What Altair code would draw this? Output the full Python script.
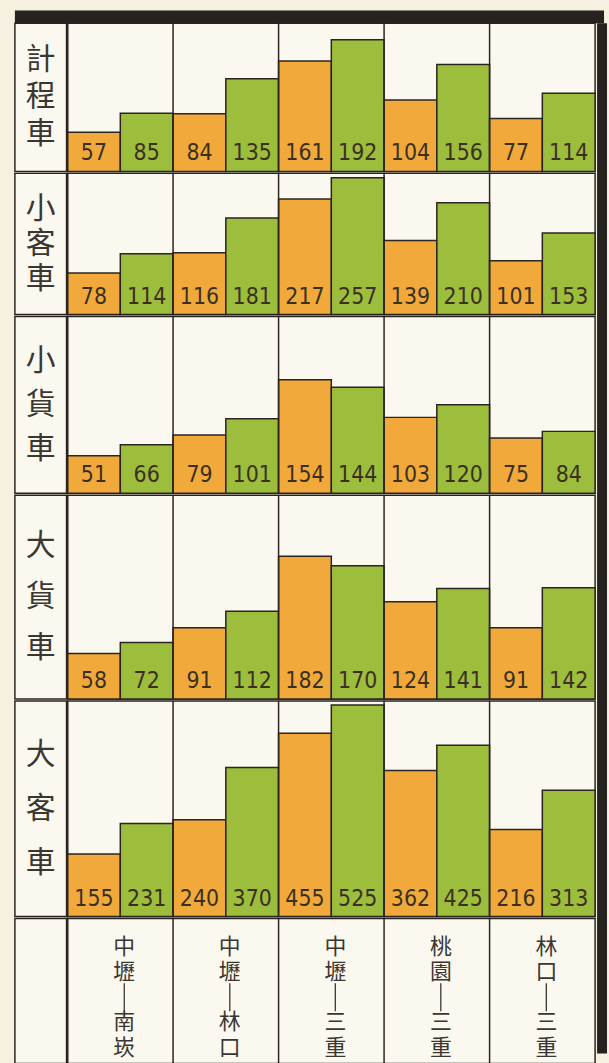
import altair as alt
import pandas as pd

# ---------------- data ----------------
vehicles = ["計程車", "小客車", "小貨車", "大貨車", "大客車"]
routes = ["中壢—南崁", "中壢—林口", "中壢—三重", "桃園—三重", "林口—三重"]
series = ["甲", "乙"]
orange_vals = [
    [57, 84, 161, 104, 77],
    [78, 116, 217, 139, 101],
    [51, 79, 154, 103, 75],
    [58, 91, 182, 124, 91],
    [155, 240, 455, 362, 216],
]
green_vals = [
    [85, 135, 192, 156, 114],
    [114, 181, 257, 210, 153],
    [66, 101, 144, 120, 84],
    [72, 112, 170, 141, 142],
    [231, 370, 525, 425, 313],
]
y_max = [216, 265, 240, 260, 535]

# ---------------- layout / style ----------------
row_heights = [149, 142, 178, 205, 217]
label_w = 52
plot_w = 531
bottom_h = 146
bar_w = 10
top_h = 13
GAP = -3

BG = "#f6f0e1"
CELL = "#fbf8ef"
BORDER = "#2a2520"
DARK = "#262220"
ORANGE = "#f2a93b"
GREEN = "#9dbd3c"
NUM_COLOR = "#3b3020"
LABEL_COLOR = "#3a3632"
NUM_FONT = "Liberation Sans Narrow, DejaVu Sans Condensed, Roboto Condensed, Liberation Sans, sans-serif"
CJK_FONT = "Noto Sans CJK TC"

xscale = alt.Scale(paddingInner=0, paddingOuter=0)
LAB_STEP = 33
cell_view = alt.ViewBackground(fill=CELL, stroke=BORDER, strokeWidth=1.5)


def row_chart(i):
    rows = []
    for r, o, g in zip(routes, orange_vals[i], green_vals[i]):
        rows.append({"route": r, "series": series[0], "value": o})
        rows.append({"route": r, "series": series[1], "value": g})
    df = pd.DataFrame(rows)
    base = alt.Chart(df)
    x = alt.X("route:N", sort=routes, axis=None, scale=xscale)
    xo = alt.XOffset("series:N", sort=series, scale=alt.Scale(paddingInner=0, paddingOuter=0))
    y = alt.Y("value:Q", axis=None, scale=alt.Scale(domain=[0, y_max[i]], nice=False))
    bars = base.mark_bar(stroke=BORDER, strokeWidth=1.5).encode(
        x=x, xOffset=xo, y=y,
        color=alt.Color("series:N", sort=series,
                        scale=alt.Scale(domain=series, range=[ORANGE, GREEN]), legend=None),
    )
    nums = base.mark_text(baseline="alphabetic", dy=-11, font=NUM_FONT, fontSize=23,
                          color=NUM_COLOR).encode(
        x=x, xOffset=xo, y=alt.datum(0), text="value:Q"
    )
    seps = alt.Chart(pd.DataFrame({"route": routes})).mark_rule(
        color=BORDER, strokeWidth=1.5).encode(
        x=alt.X("route:N", sort=routes, axis=None, scale=xscale, bandPosition=0)
    )
    plot = alt.layer(bars, nums, seps).properties(width=plot_w, height=row_heights[i])

    chars = list(vehicles[i])
    n = len(chars)
    lab_df = pd.DataFrame({"vehicle": [vehicles[i]] * n, "ch": chars, "idx": list(range(n))})
    pad = (row_heights[i] / LAB_STEP - (n - 1)) / 2
    lab = alt.Chart(lab_df).mark_text(
        font=CJK_FONT, fontSize=30, color=LABEL_COLOR, baseline="middle"
    ).encode(
        x=alt.X("vehicle:N", axis=None),
        y=alt.Y("idx:O", axis=None, scale=alt.Scale(type="point", padding=pad)),
        text="ch:N",
    ).properties(width=label_w, height=row_heights[i])
    return alt.hconcat(lab, plot, spacing=GAP).resolve_scale(
        y="independent", x="independent")


rows_charts = [row_chart(i) for i in range(len(vehicles))]

# bottom row with route labels
rl = []
for r in routes:
    a, b = r.split("—")
    for k, ch in enumerate(list(a) + [None] + list(b)):
        if ch is not None:
            rl.append({"route": r, "ch": ch, "idx": k})
route_chars = pd.DataFrame(rl)
route_lines = pd.DataFrame({"route": routes, "y0": [1.43] * len(routes), "y1": [2.55] * len(routes)})

ry = alt.Scale(domain=[-1.148, 4.634], reverse=True, nice=False, zero=False)
rx = alt.X("route:N", sort=routes, axis=None, scale=xscale)
rtext = alt.Chart(route_chars).mark_text(
    font=CJK_FONT, fontSize=22, baseline="middle", color=LABEL_COLOR, dx=4
).encode(x=rx, y=alt.Y("idx:Q", axis=None, scale=ry), text="ch:N")
rline = alt.Chart(route_lines).mark_rule(color=LABEL_COLOR, strokeWidth=1.3, xOffset=4).encode(
    x=rx, y=alt.Y("y0:Q", axis=None, scale=ry), y2="y1:Q"
)
rseps = alt.Chart(pd.DataFrame({"route": routes})).mark_rule(color=BORDER, strokeWidth=1.5).encode(
    x=alt.X("route:N", sort=routes, axis=None, scale=xscale, bandPosition=0)
)
bottom_plot = alt.layer(rtext, rline, rseps).properties(width=plot_w, height=bottom_h)
empty_df = pd.DataFrame({"a": [0]})
bottom_lab = alt.Chart(empty_df).mark_point(opacity=0).properties(
    width=label_w, height=bottom_h, view=cell_view)
bottom_row = alt.hconcat(bottom_lab, bottom_plot, spacing=GAP)

main = alt.vconcat(*rows_charts, bottom_row, spacing=GAP)

right_bar = alt.Chart(empty_df).mark_point(opacity=0).properties(
    width=bar_w, height=sum(row_heights) + bottom_h,
    view=alt.ViewBackground(fill=DARK, stroke=DARK, strokeWidth=0)
)
top_bar = alt.Chart(empty_df).mark_point(opacity=0).properties(
    width=label_w + plot_w + bar_w, height=top_h,
    view=alt.ViewBackground(fill=DARK, stroke=DARK, strokeWidth=0)
)

chart = alt.vconcat(
    top_bar,
    alt.hconcat(main, right_bar, spacing=GAP),
    spacing=GAP,
).properties(
    padding={"left": 14, "top": 7, "right": 2, "bottom": 0},
    background=BG,
).configure_view(
    fill=CELL, stroke=BORDER, strokeWidth=1.5
)

chart.save("out.html", embed_options={"renderer": "svg", "actions": False})
